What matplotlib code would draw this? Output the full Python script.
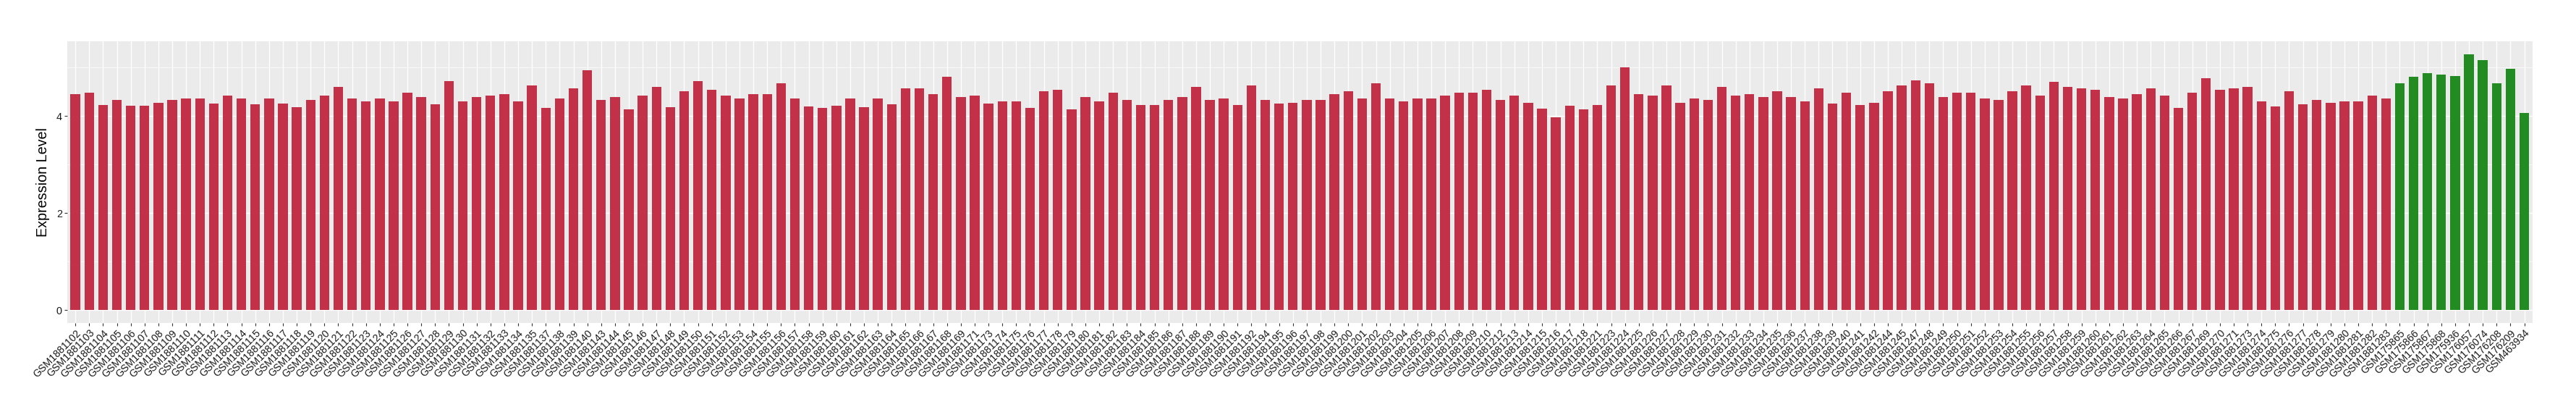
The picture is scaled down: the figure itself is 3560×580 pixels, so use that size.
import matplotlib
matplotlib.use("Agg")
import matplotlib.pyplot as plt
from matplotlib.ticker import MultipleLocator, FixedLocator

plt.rcParams['font.family'] = ['Liberation Sans', 'DejaVu Sans']

red_samples = [
    "GSM1881102", "GSM1881103", "GSM1881104", "GSM1881105", "GSM1881106", "GSM1881107",
    "GSM1881108", "GSM1881109", "GSM1881110", "GSM1881111", "GSM1881112", "GSM1881113",
    "GSM1881114", "GSM1881115", "GSM1881116", "GSM1881117", "GSM1881118", "GSM1881119",
    "GSM1881120", "GSM1881121", "GSM1881122", "GSM1881123", "GSM1881124", "GSM1881125",
    "GSM1881126", "GSM1881127", "GSM1881128", "GSM1881129", "GSM1881130", "GSM1881131",
    "GSM1881132", "GSM1881133", "GSM1881134", "GSM1881135", "GSM1881137", "GSM1881138",
    "GSM1881139", "GSM1881140", "GSM1881143", "GSM1881144", "GSM1881145", "GSM1881146",
    "GSM1881147", "GSM1881148", "GSM1881149", "GSM1881150", "GSM1881151", "GSM1881152",
    "GSM1881153", "GSM1881154", "GSM1881155", "GSM1881156", "GSM1881157", "GSM1881158",
    "GSM1881159", "GSM1881160", "GSM1881161", "GSM1881162", "GSM1881163", "GSM1881164",
    "GSM1881165", "GSM1881166", "GSM1881167", "GSM1881168", "GSM1881169", "GSM1881171",
    "GSM1881173", "GSM1881174", "GSM1881175", "GSM1881176", "GSM1881177", "GSM1881178",
    "GSM1881179", "GSM1881180", "GSM1881181", "GSM1881182", "GSM1881183", "GSM1881184",
    "GSM1881185", "GSM1881186", "GSM1881187", "GSM1881188", "GSM1881189", "GSM1881190",
    "GSM1881191", "GSM1881192", "GSM1881194", "GSM1881195", "GSM1881196", "GSM1881197",
    "GSM1881198", "GSM1881199", "GSM1881200", "GSM1881201", "GSM1881202", "GSM1881203",
    "GSM1881204", "GSM1881205", "GSM1881206", "GSM1881207", "GSM1881208", "GSM1881209",
    "GSM1881210", "GSM1881212", "GSM1881213", "GSM1881214", "GSM1881215", "GSM1881216",
    "GSM1881217", "GSM1881218", "GSM1881221", "GSM1881223", "GSM1881224", "GSM1881225",
    "GSM1881226", "GSM1881227", "GSM1881228", "GSM1881229", "GSM1881230", "GSM1881231",
    "GSM1881232", "GSM1881233", "GSM1881234", "GSM1881235", "GSM1881236", "GSM1881237",
    "GSM1881238", "GSM1881239", "GSM1881240", "GSM1881241", "GSM1881242", "GSM1881244",
    "GSM1881245", "GSM1881247", "GSM1881248", "GSM1881249", "GSM1881250", "GSM1881251",
    "GSM1881252", "GSM1881253", "GSM1881254", "GSM1881255", "GSM1881256", "GSM1881257",
    "GSM1881258", "GSM1881259", "GSM1881260", "GSM1881261", "GSM1881262", "GSM1881263",
    "GSM1881264", "GSM1881265", "GSM1881266", "GSM1881267", "GSM1881269", "GSM1881270",
    "GSM1881271", "GSM1881273", "GSM1881274", "GSM1881275", "GSM1881276", "GSM1881277",
    "GSM1881278", "GSM1881279", "GSM1881280", "GSM1881281", "GSM1881282", "GSM1881283",
]

red_values = [
    4.45, 4.48, 4.23, 4.33, 4.21, 4.21, 4.28, 4.33, 4.37, 4.36, 4.26, 4.42,
    4.37, 4.24, 4.37, 4.26, 4.18, 4.33, 4.42, 4.60, 4.36, 4.30, 4.36, 4.31,
    4.48, 4.40, 4.24, 4.72, 4.31, 4.40, 4.43, 4.45, 4.30, 4.64, 4.17, 4.37,
    4.57, 4.94, 4.34, 4.40, 4.14, 4.43, 4.60, 4.18, 4.52, 4.72, 4.55, 4.43,
    4.37, 4.46, 4.45, 4.67, 4.36, 4.20, 4.17, 4.21, 4.36, 4.18, 4.37, 4.24,
    4.57, 4.57, 4.45, 4.81, 4.39, 4.43, 4.26, 4.31, 4.30, 4.17, 4.51, 4.55,
    4.14, 4.39, 4.30, 4.49, 4.34, 4.23, 4.23, 4.34, 4.40, 4.60, 4.34, 4.36,
    4.23, 4.64, 4.33, 4.26, 4.28, 4.34, 4.34, 4.46, 4.51, 4.36, 4.67, 4.36,
    4.31, 4.36, 4.37, 4.43, 4.48, 4.49, 4.55, 4.33, 4.43, 4.28, 4.15, 3.97,
    4.21, 4.14, 4.23, 4.63, 5.01, 4.45, 4.42, 4.64, 4.28, 4.37, 4.33, 4.60,
    4.43, 4.45, 4.39, 4.52, 4.39, 4.30, 4.57, 4.26, 4.49, 4.23, 4.28, 4.52,
    4.63, 4.73, 4.67, 4.40, 4.49, 4.49, 4.36, 4.33, 4.51, 4.63, 4.42, 4.70,
    4.60, 4.58, 4.54, 4.40, 4.37, 4.45, 4.57, 4.43, 4.17, 4.48, 4.78, 4.55,
    4.57, 4.61, 4.30, 4.20, 4.51, 4.24, 4.33, 4.27, 4.31, 4.31, 4.43, 4.37,
]

green_samples = [
    "GSM175865", "GSM175866", "GSM175867", "GSM175868", "GSM175936",
    "GSM176057", "GSM176074", "GSM176208", "GSM176209", "GSM463934",
]
green_values = [4.67, 4.81, 4.88, 4.85, 4.82, 5.28, 5.16, 4.67, 4.98, 4.07]

red_color = "#C33149"
green_color = "#228B22"

samples = red_samples + green_samples
values = red_values + green_values
colors = [red_color] * len(red_samples) + [green_color] * len(green_samples)
n = len(samples)

W, H = 3560, 580
fig = plt.figure(figsize=(W / 100, H / 100), dpi=100)
ax = fig.add_axes([92.7 / W, 1 - 445.7 / H, (3500 - 92.7) / W, (445.7 - 57) / H])
ax.set_facecolor("#EBEBEB")

x = list(range(n))
ax.bar(x, values, width=0.7, color=colors, zorder=3)

ax.set_xlim(-0.6, n - 1 + 0.6)
vmax = max(values)
ax.set_ylim(-0.05 * vmax, vmax * 1.05)

ax.yaxis.set_major_locator(FixedLocator([0, 2, 4]))
ax.yaxis.set_minor_locator(FixedLocator([1, 3, 5]))
ax.set_xticks(x)
ax.set_xticklabels(samples, rotation=45, ha="right", va="top",
                   rotation_mode="anchor", fontsize=10.2, color="#1a1a1a")
ax.tick_params(axis="y", labelsize=10.4, labelcolor="#1a1a1a")
ax.tick_params(axis="both", which="major", length=3.0, width=0.8, color="#333333", pad=2)
ax.tick_params(axis="y", which="minor", length=0)

ax.grid(which="major", color="white", linewidth=1.0, zorder=0)
ax.grid(which="minor", axis="y", color="white", linewidth=0.5, zorder=0)
ax.set_axisbelow(True)
for s in ax.spines.values():
    s.set_visible(False)

ax.set_ylabel("Expression Level", fontsize=14.2, color="black", labelpad=6)

fig.savefig("out.png", dpi=100, facecolor="white")
